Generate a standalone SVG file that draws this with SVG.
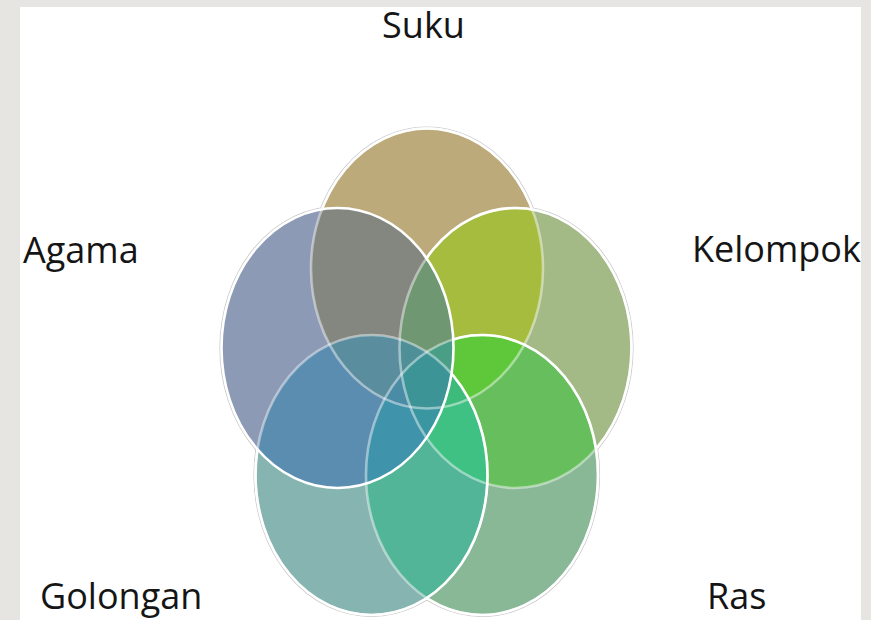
<svg xmlns="http://www.w3.org/2000/svg" xmlns:xlink="http://www.w3.org/1999/xlink" width="871" height="620" viewBox="0 0 871 620">
<style>
.lbl{font-family:"Open Sans","Noto Sans","DejaVu Sans",sans-serif;font-size:36px;fill:#151515}
.halo{fill:none;stroke:#c9c9c9;stroke-width:1.2}
.ln{fill:none;stroke:#ffffff;stroke-width:2.6}
.lnf{fill:none;stroke:#ffffff;stroke-width:2.6;stroke-opacity:0.45}
</style>
<defs>
<ellipse id="eS" cx="427" cy="268.5" rx="116" ry="140"/>
<ellipse id="eK" cx="515.5" cy="348" rx="116" ry="140"/>
<ellipse id="eR" cx="482" cy="475" rx="116" ry="140"/>
<ellipse id="eG" cx="371.5" cy="475" rx="116" ry="140"/>
<ellipse id="eA" cx="337.5" cy="348" rx="116" ry="140"/>
<clipPath id="cS"><use xlink:href="#eS"/></clipPath>
<clipPath id="cK"><use xlink:href="#eK"/></clipPath>
<clipPath id="cR"><use xlink:href="#eR"/></clipPath>
<clipPath id="cG"><use xlink:href="#eG"/></clipPath>
<clipPath id="cA"><use xlink:href="#eA"/></clipPath>
<mask id="mS" maskUnits="userSpaceOnUse" x="0" y="0" width="871" height="620">
<rect width="871" height="620" fill="#fff"/>
<use xlink:href="#eK" fill="#000"/><use xlink:href="#eR" fill="#000"/><use xlink:href="#eG" fill="#000"/><use xlink:href="#eA" fill="#000"/>
</mask>
<mask id="mK" maskUnits="userSpaceOnUse" x="0" y="0" width="871" height="620">
<rect width="871" height="620" fill="#fff"/>
<use xlink:href="#eR" fill="#000"/><use xlink:href="#eG" fill="#000"/><use xlink:href="#eA" fill="#000"/>
</mask>
<mask id="mR" maskUnits="userSpaceOnUse" x="0" y="0" width="871" height="620">
<rect width="871" height="620" fill="#fff"/>
<use xlink:href="#eG" fill="#000"/><use xlink:href="#eA" fill="#000"/>
</mask>
<mask id="mG" maskUnits="userSpaceOnUse" x="0" y="0" width="871" height="620">
<rect width="871" height="620" fill="#fff"/>
<use xlink:href="#eA" fill="#000"/>
</mask>
</defs>

<rect width="871" height="620" fill="#e6e5e1"/>
<rect x="20" y="7" width="841" height="613" fill="#ffffff"/>

<g id="halos">
<ellipse class="halo" cx="427" cy="268.5" rx="117.5" ry="141.5"/>
<ellipse class="halo" cx="515.5" cy="348" rx="117.5" ry="141.5"/>
<ellipse class="halo" cx="482" cy="475" rx="117.5" ry="141.5"/>
<ellipse class="halo" cx="371.5" cy="475" rx="117.5" ry="141.5"/>
<ellipse class="halo" cx="337.5" cy="348" rx="117.5" ry="141.5"/>
</g>

<g id="suku"><use xlink:href="#eS" fill="#bdaa7b"/><text class="lbl" x="423.5" y="38" text-anchor="middle">Suku</text></g>
<g id="kelompok"><use xlink:href="#eK" fill="#a3ba86"/><text class="lbl" x="692" y="262">Kelompok</text></g>
<g id="ras"><use xlink:href="#eR" fill="#89b896"/><text class="lbl" x="707" y="609">Ras</text></g>
<g id="golongan"><use xlink:href="#eG" fill="#86b4b0"/><text class="lbl" x="40" y="609">Golongan</text></g>
<g id="agama"><use xlink:href="#eA" fill="#8d9ab5"/><text class="lbl" x="23" y="263">Agama</text></g>

<g id="overlaps">
<g clip-path="url(#cS)"><use xlink:href="#eK" fill="#a6bc3f"/></g>
<g clip-path="url(#cK)"><use xlink:href="#eR" fill="#66bf5c"/></g>
<g clip-path="url(#cR)"><use xlink:href="#eG" fill="#52b597"/></g>
<g clip-path="url(#cG)"><use xlink:href="#eA" fill="#5b8db0"/></g>
<g clip-path="url(#cA)"><use xlink:href="#eS" fill="#838780"/></g>
<g clip-path="url(#cA)"><g clip-path="url(#cK)"><use xlink:href="#eS" fill="#6e9772"/></g></g>
<g clip-path="url(#cS)"><g clip-path="url(#cR)"><use xlink:href="#eK" fill="#5fc83a"/></g></g>
<g clip-path="url(#cK)"><g clip-path="url(#cG)"><use xlink:href="#eR" fill="#3fc184"/></g></g>
<g clip-path="url(#cR)"><g clip-path="url(#cA)"><use xlink:href="#eG" fill="#3f93aa"/></g></g>
<g clip-path="url(#cG)"><g clip-path="url(#cS)"><use xlink:href="#eA" fill="#5a8d9e"/></g></g>
<g clip-path="url(#cS)"><g clip-path="url(#cK)"><g clip-path="url(#cR)"><use xlink:href="#eA" fill="#4a9e86"/></g></g></g>
<g clip-path="url(#cS)"><g clip-path="url(#cK)"><g clip-path="url(#cG)"><use xlink:href="#eA" fill="#4f8f98"/></g></g></g>
<g clip-path="url(#cS)"><g clip-path="url(#cK)"><g clip-path="url(#cR)"><use xlink:href="#eG" fill="#3dbb7a"/></g></g></g>
<g clip-path="url(#cS)"><g clip-path="url(#cR)"><g clip-path="url(#cG)"><use xlink:href="#eA" fill="#4a8ca6"/></g></g></g>
<g clip-path="url(#cK)"><g clip-path="url(#cR)"><g clip-path="url(#cG)"><use xlink:href="#eA" fill="#3a96a0"/></g></g></g>
<g clip-path="url(#cS)"><g clip-path="url(#cK)"><g clip-path="url(#cR)"><g clip-path="url(#cG)"><use xlink:href="#eA" fill="#3c9496"/></g></g></g></g>
</g>

<g id="outlines">
<use xlink:href="#eS" class="lnf"/><use xlink:href="#eS" class="ln" mask="url(#mS)"/>
<use xlink:href="#eK" class="lnf"/><use xlink:href="#eK" class="ln" mask="url(#mK)"/>
<use xlink:href="#eR" class="lnf"/><use xlink:href="#eR" class="ln" mask="url(#mR)"/>
<use xlink:href="#eG" class="lnf"/><use xlink:href="#eG" class="ln" mask="url(#mG)"/>
<use xlink:href="#eA" class="ln"/>
</g>
<g id="connectors"/>
</svg>
